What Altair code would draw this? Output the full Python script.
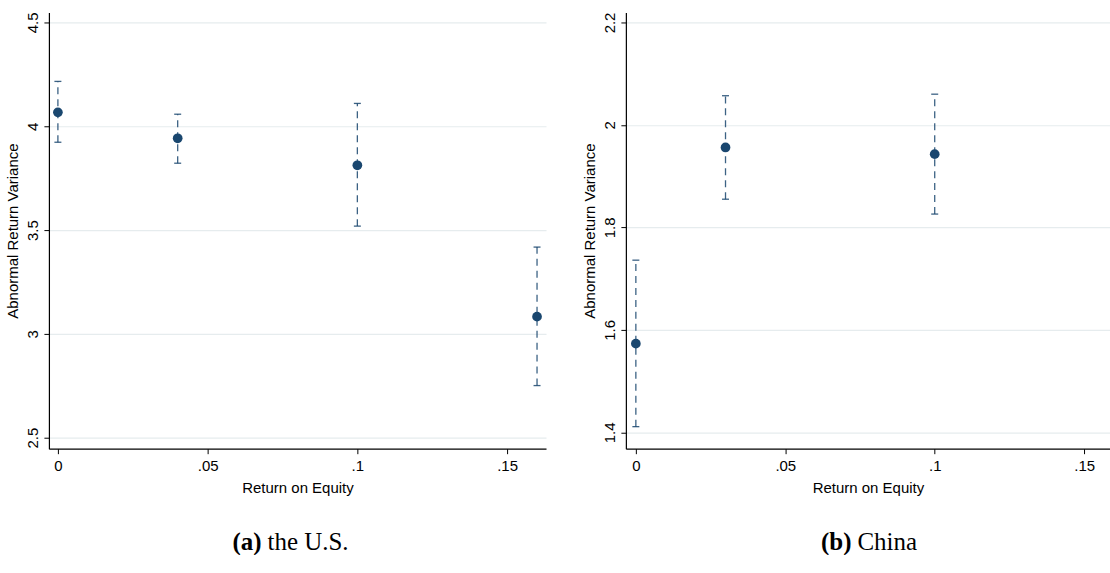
import altair as alt
import pandas as pd

# Return on equity bins and abnormal return variance estimates with 95% CIs
roe_us = [0.0, 0.04, 0.10, 0.16]
var_us = [4.067, 3.942, 3.812, 3.083]
lo_us = [3.923, 3.822, 3.519, 2.751]
hi_us = [4.216, 4.058, 4.110, 3.418]

roe_cn = [0.0, 0.03, 0.10]
var_cn = [1.573, 1.956, 1.943]
lo_cn = [1.411, 1.855, 1.826]
hi_cn = [1.736, 2.057, 2.060]

x_ticks = [0, 0.05, 0.10, 0.15]
y_ticks_us = [2.5, 3.0, 3.5, 4.0, 4.5]
y_ticks_cn = [1.4, 1.6, 1.8, 2.0, 2.2]

NAVY = "#1a476f"
FONT = "Liberation Sans"
SERIF = "Liberation Serif"


def panel(roe, est, lo, hi, x_dom, y_dom, y_ticks, w, h, tag, name, tag_x):
    df = pd.DataFrame({"roe": roe, "est": est, "lo": lo, "hi": hi})
    x = alt.X(
        "roe:Q",
        title="Return on Equity",
        scale=alt.Scale(domain=x_dom, nice=False, zero=False),
        axis=alt.Axis(
            values=x_ticks,
            labelExpr="datum.value == 0 ? '0' : substring(format(datum.value, '.2~f'), 1)",
            grid=False,
            labelPadding=5,
            titlePadding=7,
        ),
    )
    y_axis = alt.Axis(
        values=y_ticks,
        format=".1~f",
        labelAngle=270,
        labelAlign="center",
        labelBaseline="bottom",
        labelPadding=3,
        titlePadding=5,
        grid=True,
    )
    y_scale = alt.Scale(domain=y_dom, nice=False, zero=False)

    bars = alt.Chart(df).mark_rule(
        color=NAVY, strokeWidth=1.3, strokeDash=[7, 5], opacity=0.85
    ).encode(
        x=x,
        y=alt.Y("lo:Q", title="Abnormal Return Variance", scale=y_scale, axis=y_axis),
        y2="hi:Q",
    )
    cap_lo = alt.Chart(df).mark_tick(
        orient="horizontal", size=7, thickness=1.3, color=NAVY, opacity=0.85
    ).encode(x="roe:Q", y="lo:Q")
    cap_hi = alt.Chart(df).mark_tick(
        orient="horizontal", size=7, thickness=1.3, color=NAVY, opacity=0.85
    ).encode(x="roe:Q", y="hi:Q")
    dots = alt.Chart(df).mark_circle(
        color=NAVY, opacity=1, size=95
    ).encode(x="roe:Q", y="est:Q")

    cap_df = pd.DataFrame({"tag": [tag], "name": [name]})
    tag_txt = alt.Chart(cap_df).mark_text(
        font=SERIF, fontSize=25, fontWeight="bold", align="right",
        baseline="alphabetic", color="black"
    ).encode(text="tag:N", x=alt.value(tag_x), y=alt.value(h + 101))
    name_txt = alt.Chart(cap_df).mark_text(
        font=SERIF, fontSize=25, align="left", baseline="alphabetic", color="black"
    ).encode(text="name:N", x=alt.value(tag_x + 6), y=alt.value(h + 101))

    return alt.layer(bars, cap_lo, cap_hi, dots, tag_txt, name_txt).properties(
        width=w, height=h
    )


left = panel(roe_us, var_us, lo_us, hi_us, [-0.003, 0.163], [2.447, 4.548],
             y_ticks_us, 498, 437, "(a)", "the U.S.", 213)
right = panel(roe_cn, var_cn, lo_cn, hi_cn, [-0.00334, 0.15865], [1.368, 2.2195],
              y_ticks_cn, 485, 437, "(b)", "China", 226)

chart = alt.hconcat(left, right, spacing=37).properties(
    padding={"left": 6, "top": 11, "right": 0, "bottom": 0},
    background="white",
).configure_view(
    stroke=None
).configure_axis(
    labelFont=FONT,
    titleFont=FONT,
    labelFontSize=15,
    titleFontSize=15,
    titleFontWeight="normal",
    labelColor="black",
    titleColor="black",
    domainColor="black",
    domainWidth=1.2,
    tickColor="black",
    tickSize=5,
    tickWidth=1,
    gridColor="#e6ecee",
    gridWidth=1.2,
)

chart.save("out.html", embed_options={"renderer": "svg", "actions": False})
